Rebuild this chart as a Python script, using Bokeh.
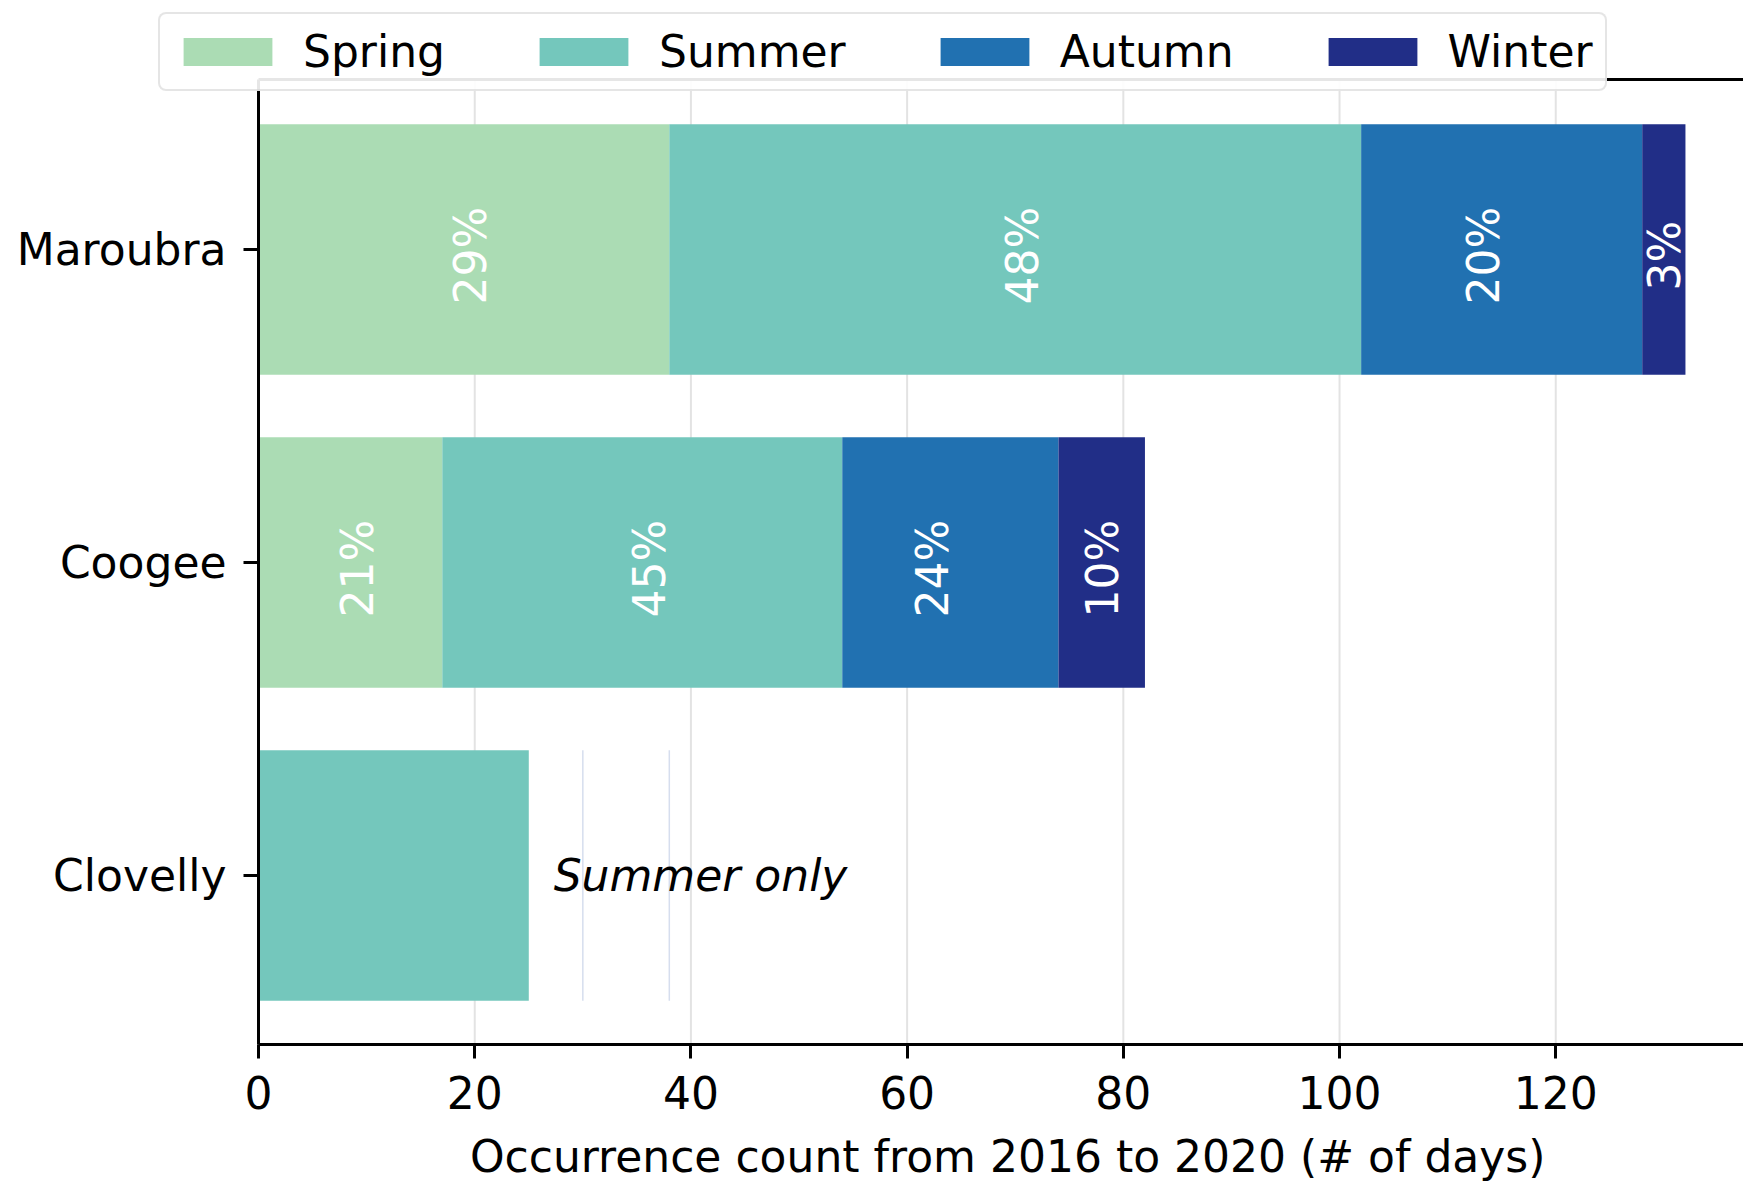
import math

from bokeh.core.properties import value
from bokeh.embed import file_html
from bokeh.models import ColumnDataSource, FixedTicker, Legend, Range1d
from bokeh.plotting import figure
from bokeh.resources import INLINE

# Beaches (bottom to top) and days per season, 2016-2020
beaches = ["Clovelly", "Coogee", "Maroubra"]
seasons = ["Spring", "Summer", "Autumn", "Winter"]
spring = [0, 17, 38]
summer = [25, 37, 64]
autumn = [0, 20, 26]
winter = [0, 8, 4]
season_colors = ["#abdcb4", "#74c7bc", "#2171b1", "#212e87"]
x_ticks = [0, 20, 40, 60, 80, 100, 120]
labelled_beaches = ["Maroubra", "Coogee"]
clovelly_marks = [30, 38]
x_title = "Occurrence count from 2016 to 2020 (# of days)"
FONT = "DejaVu Sans"

# axes box in data units; the canvas reaches further out for the
# tick labels, the axis title and the legend
x_lo, x_hi = 0, 138.6
y_lo, y_hi = -0.54, 2.543
view_x = (-23.87, 137.37)
view_y = (-0.9777, 2.7955)
title_y = -0.898

# horizontal nudge (px) of the percentage labels, per season
label_nudge = {"Spring": 7, "Summer": 7, "Autumn": -18, "Winter": 1}

values = {"Spring": spring, "Summer": summer, "Autumn": autumn, "Winter": winter}
ypos = list(range(len(beaches)))
source = ColumnDataSource(dict(pos=ypos, **values))

p = figure(width=1743, height=1181,
           x_range=Range1d(*view_x), y_range=Range1d(*view_y),
           output_backend="svg", toolbar_location=None,
           min_border=0)
p.outline_line_color = None
p.background_fill_color = "white"
p.border_fill_color = "white"
p.grid.grid_line_color = None

# vertical grid lines, inside the axes box only
p.segment(x0=x_ticks, x1=x_ticks, y0=y_lo, y1=y_hi, line_color="#e3e3e3",
          line_width=2, level="underlay")

renderers = p.hbar_stack(seasons, y="pos", height=0.8, color=season_colors,
                         line_color=None, source=source)

# faint marks in the Clovelly row
ci = beaches.index("Clovelly")
p.hbar(y=[ci] * len(clovelly_marks), left=clovelly_marks,
       right=clovelly_marks, height=0.8, fill_color=None,
       line_color="#d6deee", line_width=1.5)

# percentage share of each season, written inside the segments
lx, ly, lt, lo = [], [], [], []
for b in labelled_beaches:
    i = beaches.index(b)
    total = sum(values[s][i] for s in seasons)
    left = 0
    for s in seasons:
        v = values[s][i]
        if v > 0:
            lx.append(left + v / 2)
            ly.append(i)
            lt.append(f"{round(v / total * 100)}%")
            lo.append(label_nudge[s])
        left += v
p.text(x=lx, y=ly, text=lt, x_offset=lo, y_offset=6, angle=math.pi / 2,
       text_color="white", text_font=value(FONT), text_font_size="44px",
       text_align="center", text_baseline="middle")

clovelly_total = sum(values[s][ci] for s in seasons)
p.text(x=[clovelly_total + 2.3], y=[ci], text=["Summer only"],
       text_color="black", text_font=value(FONT), text_font_size="44px",
       text_font_style="italic", text_align="left", text_baseline="middle")

# top spine
p.segment(x0=[x_lo], x1=[x_hi], y0=[y_hi], y1=[y_hi], line_color="black",
          line_width=3)

# x axis title, centred under the axes box
p.text(x=[(x_lo + x_hi) / 2], y=[title_y], text=[x_title],
       text_color="black", text_font=value(FONT), text_font_size="44px",
       text_align="center", text_baseline="middle")

# x axis, pinned at the bottom of the axes box
xa = p.xaxis[0]
xa.fixed_location = y_lo
xa.bounds = (x_lo, x_hi)
xa.ticker = FixedTicker(ticks=x_ticks)
xa.major_label_text_font = FONT
xa.major_label_text_font_size = "44px"
xa.major_label_text_color = "black"
xa.major_label_standoff = 17
xa.major_tick_out = 14
xa.major_tick_in = 0
xa.major_tick_line_width = 3
xa.minor_tick_line_color = None
xa.axis_line_width = 3
xa.axis_line_color = "black"

# y axis, pinned at x = 0
ya = p.yaxis[0]
ya.fixed_location = x_lo
ya.bounds = (y_lo, y_hi)
ya.ticker = FixedTicker(ticks=ypos)
ya.major_label_overrides = {i: b for i, b in enumerate(beaches)}
ya.major_label_text_font = FONT
ya.major_label_text_font_size = "44px"
ya.major_label_text_color = "black"
ya.major_label_standoff = 17
ya.major_tick_out = 15
ya.major_tick_in = 0
ya.major_tick_line_width = 3
ya.minor_tick_line_color = None
ya.axis_line_width = 3
ya.axis_line_color = "black"

legend = Legend(items=[(s, [r]) for s, r in zip(seasons, renderers)],
                orientation="horizontal", location=(158, 1090),
                label_text_font=FONT, label_text_font_size="44px",
                label_text_color="black",
                glyph_width=111, glyph_height=35, label_standoff=20,
                spacing=83, padding=12, margin=0,
                border_line_color="#cccccc", border_line_width=2,
                background_fill_color="white", background_fill_alpha=0.9)
if "border_radius" in Legend.properties():
    legend.border_radius = 8
p.add_layout(legend)

open("out.html", "w").write(file_html(p, INLINE))
